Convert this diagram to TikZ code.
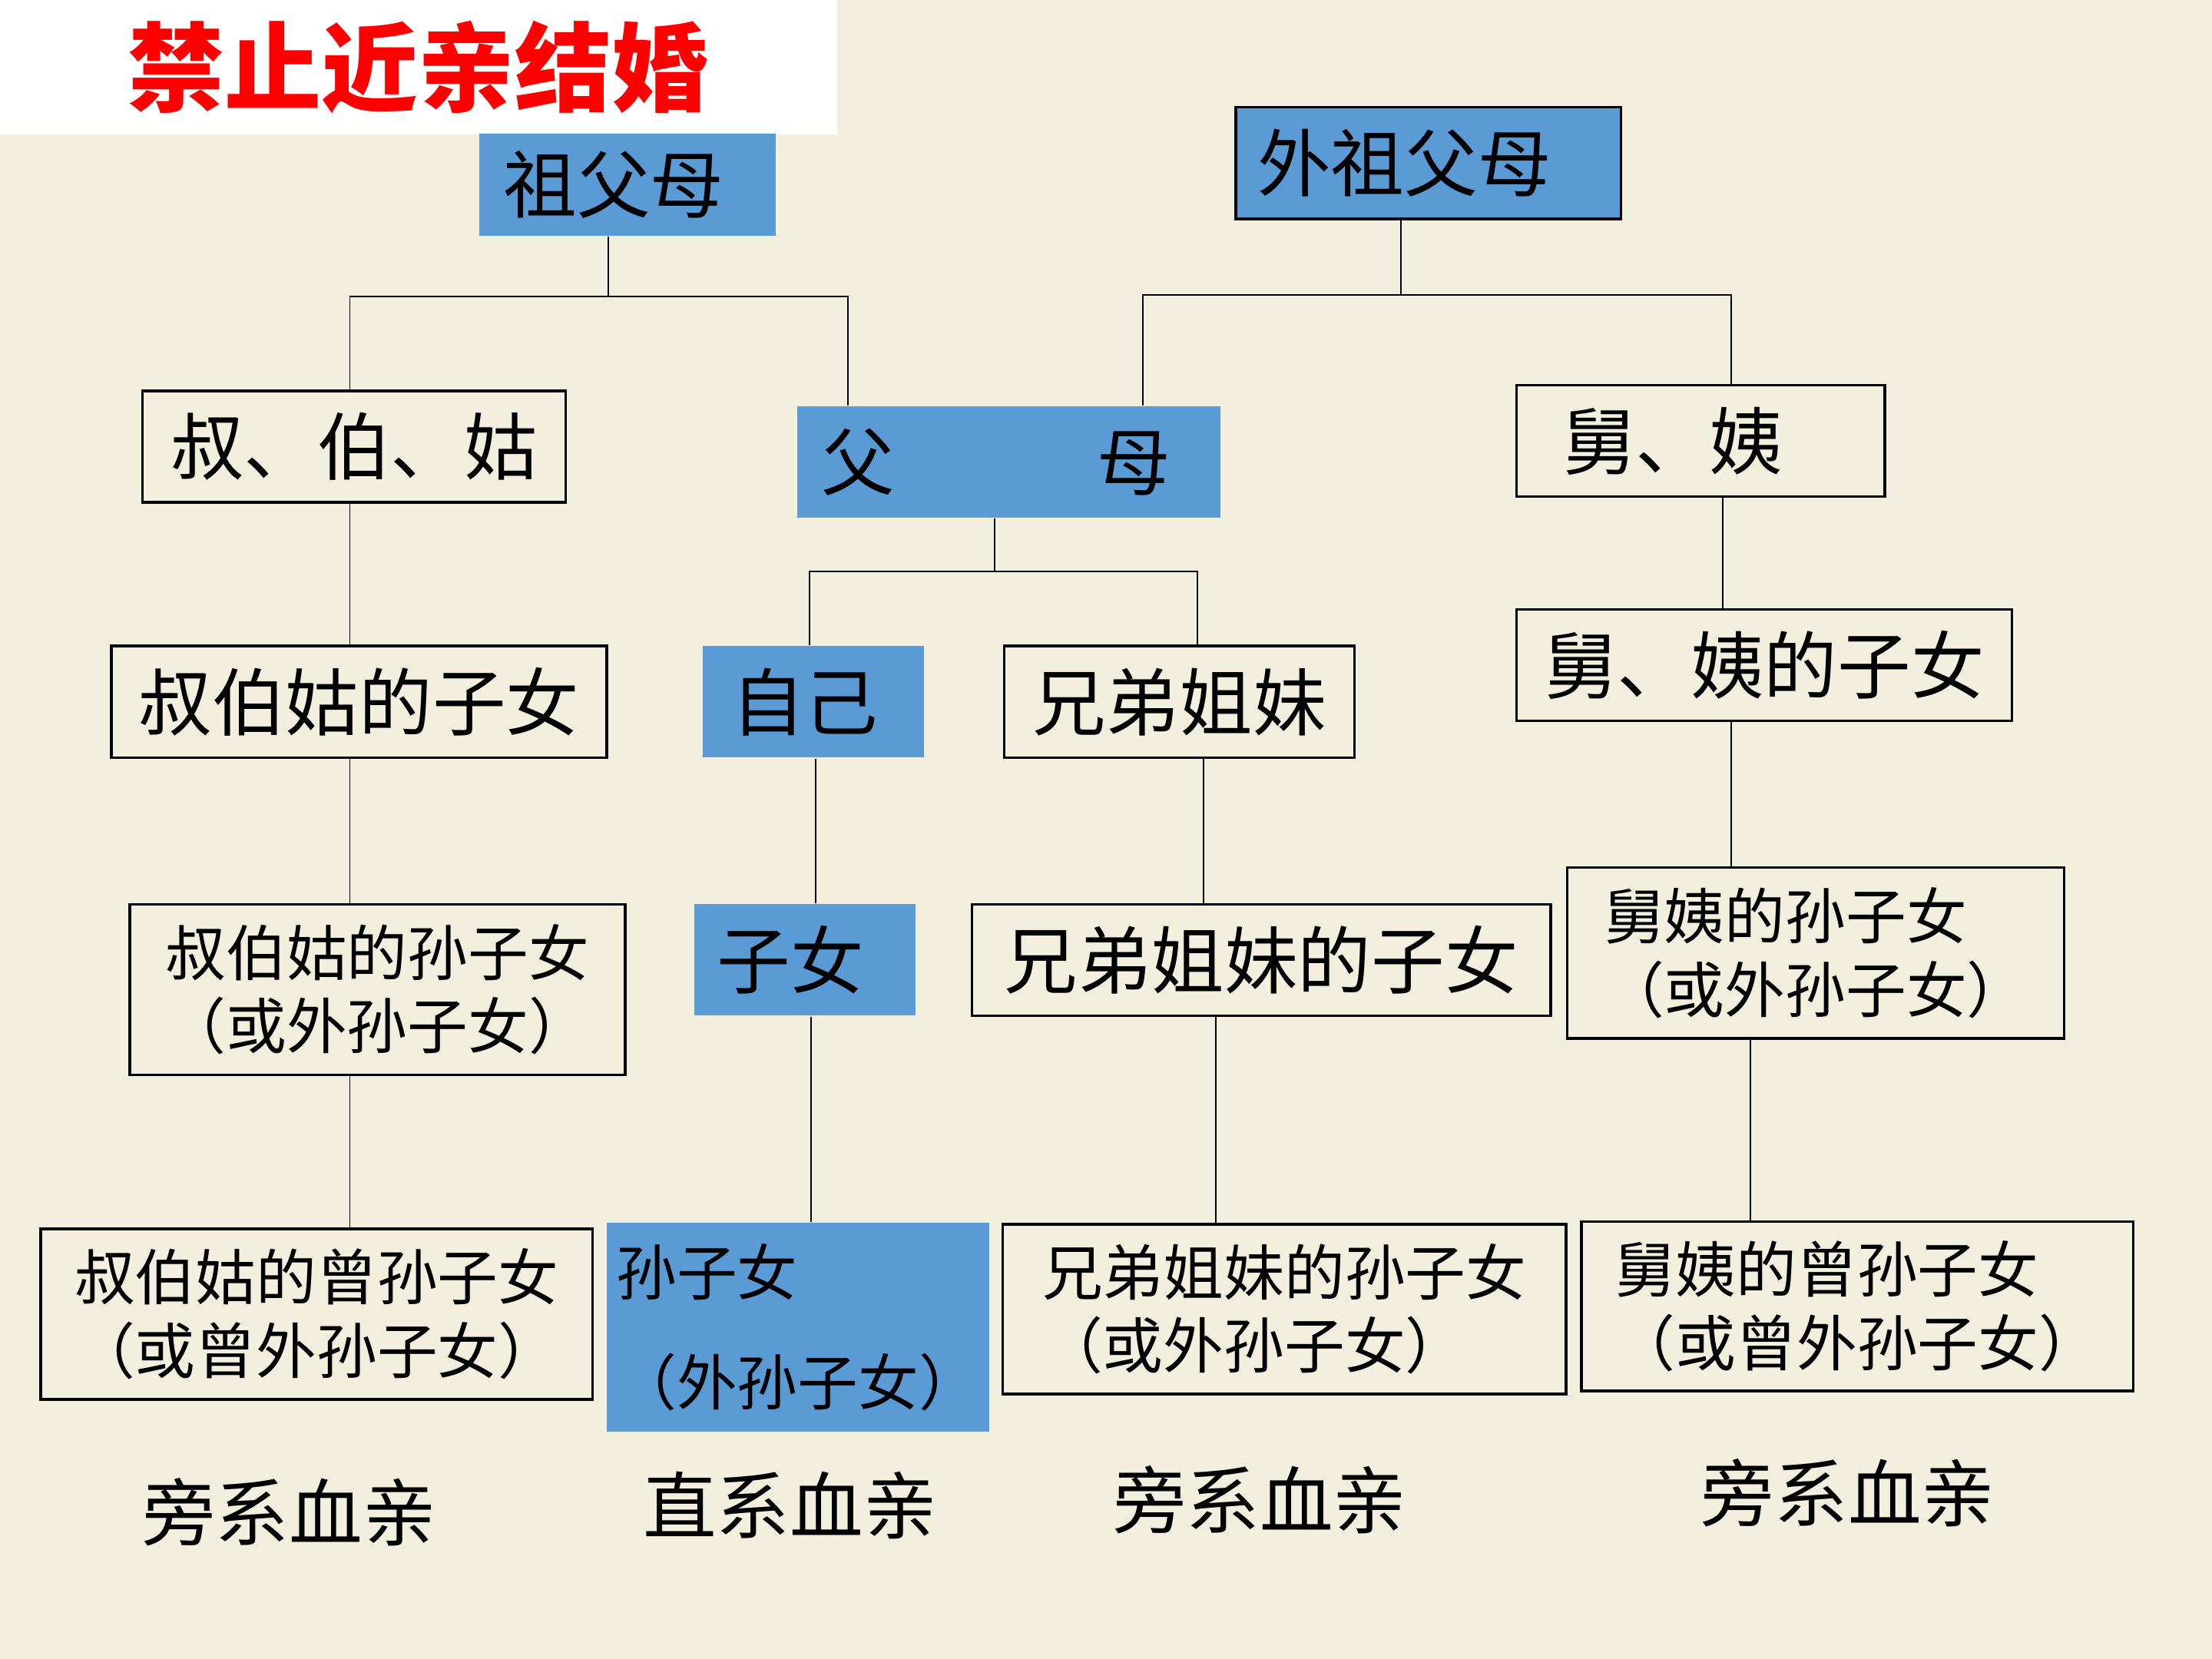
\documentclass[tikz,border=0pt]{standalone}
\usepackage{fontspec}
\setmainfont{Noto Sans CJK SC}
\usepackage{tikz}
\definecolor{Paper}{HTML}{F2EFDF}
\definecolor{BoxBlue}{HTML}{5B9BD5}
\definecolor{TitleRed}{HTML}{FF0000}
\newcommand{\bigtxt}{\fontsize{14.8pt}{18pt}\selectfont}
\newcommand{\smalltxt}{\fontsize{12.2pt}{14.8pt}\selectfont}
\newcommand{\titletxt}{\fontsize{19.5pt}{22pt}\selectfont}
\tikzset{
	kinbox/.style={draw=black, line width=0.55pt, inner sep=0pt, align=center},
	bluebox/.style={fill=BoxBlue, inner sep=0pt, align=center},
	link/.style={line width=0.3pt},
	tag/.style={inner sep=0pt, font=\bigtxt}
}

\begin{document}
\begin{tikzpicture}[x=0.01cm, y=-0.01cm]
	\fill[Paper] (0,0) rectangle (1568,1176);
	\useasboundingbox (0,0) rectangle (1568,1176);
	
	% title
	\node[fill=white, minimum width=5.93cm, minimum height=0.95cm, inner sep=0pt,
	text=TitleRed, font=\titletxt\bfseries] (title) at (296.5,47.5) {禁止近亲结婚};
	
	% grandparents
	\node[bluebox, minimum width=2.10cm, minimum height=0.72cm, font=\bigtxt] (zfm) at (445,131) {祖父母\hspace*{0.2cm}};
	\node[bluebox, draw=black, line width=0.55pt, minimum width=2.73cm, minimum height=0.79cm,
	font=\bigtxt] (wzfm) at (1012.5,115.5) {外祖父母\hspace*{0.34cm}};
	
	% parents and their siblings
	\node[kinbox, minimum width=3.00cm, minimum height=0.79cm, font=\bigtxt] (sbg) at (251,316.5) {叔、伯、姑};
	\node[bluebox, minimum width=3.00cm, minimum height=0.79cm, font=\bigtxt] (fm) at (715,327.5) {父\hspace{1.43cm}母\hspace*{0.18cm}};
	\node[kinbox, minimum width=2.61cm, minimum height=0.79cm, font=\bigtxt] (jy) at (1205.5,312.5) {舅、姨\hspace*{0.4cm}};
	
	% own generation
	\node[kinbox, minimum width=3.51cm, minimum height=0.79cm, font=\bigtxt] (sbgzn) at (254.5,497.5) {叔伯姑的子女};
	\node[bluebox, minimum width=1.57cm, minimum height=0.79cm, font=\bigtxt] (zj) at (576.5,497.5) {自己\hspace*{0.12cm}};
	\node[kinbox, minimum width=2.48cm, minimum height=0.79cm, font=\bigtxt] (xdjm) at (836,497.5) {兄弟姐妹};
	\node[kinbox, minimum width=3.51cm, minimum height=0.79cm, font=\bigtxt] (jyzn) at (1250.5,471.5) {舅、姨的子女};
	
	% children
	\node[kinbox, align=left, minimum width=3.51cm, minimum height=1.21cm, font=\smalltxt] (sbgsn) at (267.5,701.5)
	{叔伯姑的孙子女\\（或外孙子女）};
	\node[bluebox, minimum width=1.57cm, minimum height=0.79cm, font=\bigtxt] (zn) at (570.5,680.5) {子女\hspace*{0.2cm}};
	\node[kinbox, minimum width=4.10cm, minimum height=0.79cm, font=\bigtxt] (xdjmzn) at (894,680.5) {兄弟姐妹的子女};
	\node[kinbox, align=left, minimum width=3.52cm, minimum height=1.21cm, font=\smalltxt] (jysn) at (1287,675.5)
	{舅姨的孙子女\\（或外孙子女）};
	
	% grandchildren
	\node[kinbox, align=left, minimum width=3.91cm, minimum height=1.21cm, font=\smalltxt] (sbgzsn) at (224.5,931.5)
	{叔伯姑的曾孙子女\\（或曾外孙子女）};
	\node[bluebox, align=left, minimum width=2.71cm, minimum height=1.48cm, font=\smalltxt] (szn) at (565.5,941)
	{孙子女\\[0.26cm]（外孙子女）};
	\node[kinbox, align=left, minimum width=3.99cm, minimum height=1.20cm, font=\smalltxt] (xdjmsn) at (910.5,928)
	{兄弟姐妹的孙子女\\（或外孙子女）};
	\node[kinbox, align=left, minimum width=3.91cm, minimum height=1.20cm, font=\smalltxt] (jyzsn) at (1316.5,926)
	{舅姨的曾孙子女\\（或曾外孙子女）};
	
	% kinds of kinship
	\node[tag] (px1) at (205,1072) {旁系血亲};
	\node[tag] (zx) at (560,1067) {直系血亲};
	\node[tag] (px2) at (893,1063) {旁系血亲};
	\node[tag] (px3) at (1310,1058) {旁系血亲};
	
	% branch points
	\coordinate (za) at (248,210);
	\coordinate (zb) at (601,210);
	\coordinate (zc) at (431,210);
	\coordinate (wa) at (810,209);
	\coordinate (wb) at (1227,209);
	\coordinate (wc) at (993,209);
	\coordinate (fa) at (574,405);
	\coordinate (fb) at (849,405);
	\coordinate (fc) at (705,405);
	
	% columns
	\coordinate (k1) at (248,0);
	\coordinate (k2) at (578,0);
	\coordinate (k3) at (853,0);
	\coordinate (k4) at (1221,0);
	\coordinate (k5) at (1227,0);
	\coordinate (k6) at (575,0);
	\coordinate (k7) at (862,0);
	\coordinate (k8) at (1241,0);
	
	\draw[link] (zfm.south -| zc) -- (zc);
	\draw[link] (sbg.north -| za) -- (za) -- (zb) -- (fm.north -| zb);
	\draw[link] (wzfm.south -| wc) -- (wc);
	\draw[link] (fm.north -| wa) -- (wa) -- (wb) -- (jy.north -| wb);
	\draw[link] (fm.south -| fc) -- (fc);
	\draw[link] (zj.north -| fa) -- (fa) -- (fb) -- (xdjm.north -| fb);
	
	\draw[link] (sbg.south -| k1) -- (sbgzn.north -| k1);
	\draw[link] (sbgzn.south -| k1) -- (sbgsn.north -| k1);
	\draw[link] (sbgsn.south -| k1) -- (sbgzsn.north -| k1);
	\draw[link] (zj.south -| k2) -- (zn.north -| k2);
	\draw[link] (zn.south -| k6) -- (szn.north -| k6);
	\draw[link] (xdjm.south -| k3) -- (xdjmzn.north -| k3);
	\draw[link] (xdjmzn.south -| k7) -- (xdjmsn.north -| k7);
	\draw[link] (jy.south -| k4) -- (jyzn.north -| k4);
	\draw[link] (jyzn.south -| k5) -- (jysn.north -| k5);
	\draw[link] (jysn.south -| k8) -- (jyzsn.north -| k8);
\end{tikzpicture}
\end{document}
